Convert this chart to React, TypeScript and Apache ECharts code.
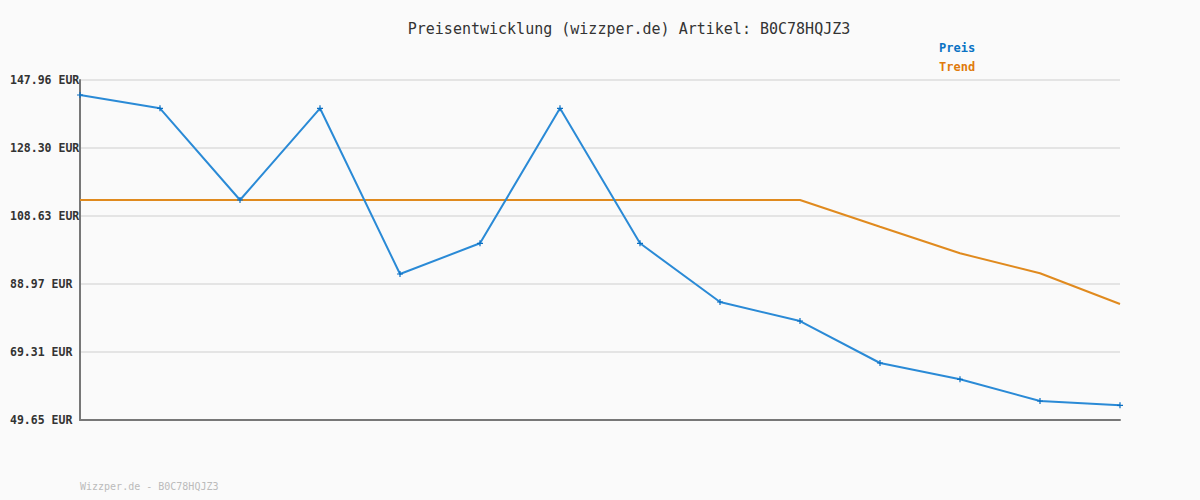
import React, { useEffect, useRef } from "react";
import * as echarts from "echarts";

const categories = ["1", "2", "3", "4", "5", "6", "7", "8", "9", "10", "11", "12", "13", "14"];
const preis = [143.62, 139.78, 113.26, 139.78, 91.87, 100.74, 139.78, 100.74, 83.77, 78.27, 66.13, 61.42, 55.14, 53.9];
const trend = [113.26, 113.26, 113.26, 113.26, 113.26, 113.26, 113.26, 113.26, 113.26, 113.26, 105.54, 97.85, 92.07, 83.19];
const yTickLabels = ["49.65", "69.31", "88.97", "108.63", "128.30", "147.96"];
const yMin = 49.65;
const yMax = 147.96;
const yStep = 19.662;

const MONO = "'DejaVu Sans Mono', 'Liberation Mono', monospace";

export default function App() {
  const ref = useRef<HTMLDivElement>(null);
  useEffect(() => {
    if (!ref.current) return;
    const chart = echarts.init(ref.current, null, { renderer: "svg" });
    chart.setOption({
      animation: false,
      backgroundColor: "#fafafa",
      title: {
        text: "Preisentwicklung (wizzper.de) Artikel: B0C78HQJZ3",
        left: 624,
        textAlign: "center",
        top: 16,
        textStyle: { fontFamily: MONO, fontSize: 15, fontWeight: "normal", color: "#333" },
      },
      legend: {
        orient: "vertical",
        left: 929,
        top: 36,
        icon: "none",
        itemWidth: 0,
        itemHeight: 14,
        itemGap: 6,
        data: [
          { name: "Preis", textStyle: { color: "#0a72c4" } },
          { name: "Trend", textStyle: { color: "#e07b0c" } },
        ],
        textStyle: { fontFamily: MONO, fontSize: 12, fontWeight: "bold" },
      },
      graphic: [
        {
          type: "text",
          left: 80,
          top: 481,
          style: {
            text: "Wizzper.de - B0C78HQJZ3",
            font: `10px ${MONO}`,
            fill: "#bbbbbb",
          },
        },
      ],
      grid: { left: 80, right: 80, top: 80, bottom: 80 },
      xAxis: {
        type: "category",
        data: categories,
        boundaryGap: false,
        axisLine: { lineStyle: { color: "#777", width: 2 } },
        axisTick: { show: false },
        axisLabel: { show: false },
        splitLine: { show: false },
      },
      yAxis: {
        type: "value",
        min: yMin,
        max: yMax,
        interval: yStep,
        axisLine: { show: true, lineStyle: { color: "#777", width: 2 } },
        axisTick: { show: false },
        splitLine: { lineStyle: { color: "#e4e4e4", width: 2 } },
        axisLabel: {
          align: "left",
          margin: 70,
          fontFamily: MONO,
          fontSize: 11.5,
          fontWeight: "bold",
          color: "#333",
          formatter: (v: number, i: number) => (yTickLabels[i] ?? v.toFixed(2)) + " EUR",
        },
      },
      series: [
        {
          name: "Preis",
          type: "line",
          data: preis,
          symbol: "path://M2,0H3V2H5V3H3V5H2V3H0V2H2Z",
          symbolSize: 6,
          itemStyle: { color: "#0a6fc2" },
          lineStyle: { color: "#2a8ad6", width: 2 },
          z: 3,
        },
        {
          name: "Trend",
          type: "line",
          data: trend,
          symbol: "none",
          itemStyle: { color: "#e07b0c" },
          lineStyle: { color: "#e08a1e", width: 2 },
          z: 2,
        },
      ],
    });
    return () => chart.dispose();
  }, []);
  return <div ref={ref} style={{ width: 1200, height: 500, position: "absolute", left: 0, top: 0 }} />;
}
